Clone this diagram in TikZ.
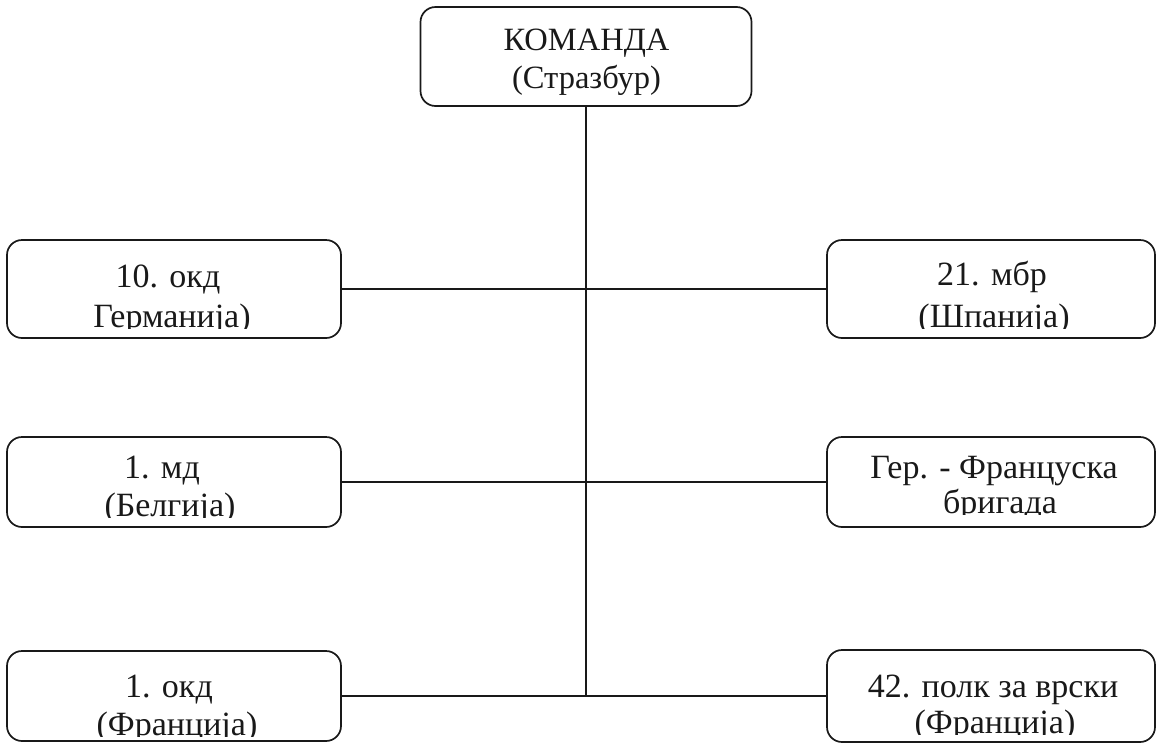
\documentclass[tikz,border=0pt]{standalone}
\usepackage{fontspec}
\setmainfont{Liberation Serif}
\begin{document}
\begin{tikzpicture}[x=1pt,y=-1pt,
  box/.style={draw=black!90, line width=1.7pt, rounded corners=15pt, inner sep=0pt},
  lbox/.style={box, minimum width=334pt},
  rbox/.style={box, minimum width=328pt},
  txt/.style={anchor=base, inner sep=0pt, font=\fontsize{34}{40}\selectfont, text=black!90},
  ttxt/.style={anchor=base, inner sep=0pt, font=\fontsize{32.5}{38}\selectfont, text=black!90},
  conn/.style={draw=black!90, line width=1.5pt}]
\useasboundingbox (0,0) rectangle (1157,745);
% top
\node[box, minimum width=331pt, minimum height=99pt] (top) at (586,56.5) {};
\node[ttxt] (topA) at (586.5,50) {КОМАНДА};
\node[ttxt] (topB) at (586.5,88) {(Стразбур)};
% left column
\node[lbox, minimum height=98pt] (l1) at (174,289) {};
\node[lbox, minimum height=90pt] (l2) at (174,482) {};
\node[lbox, minimum height=90pt] (l3) at (174,696) {};
% right column
\node[rbox, minimum height=98pt] (r1) at (991,289) {};
\node[rbox, minimum height=90pt] (r2) at (991,482) {};
\node[rbox, minimum height=92pt] (r3) at (991,696) {};
% texts
\node[txt] (l1a) at (168,287) {10. окд};
\begin{scope}\clip (8,241) rectangle (340,328);
\node[txt] (l1b) at (172,327) {Германија)};
\end{scope}
\node[txt] (l2a) at (162,478) {1. мд};
\begin{scope}\clip (8,438) rectangle (340,517);
\node[txt] (l2b) at (170,516) {(Белгија)};
\end{scope}
\node[txt] (l3a) at (169,697) {1. окд};
\begin{scope}\clip (8,652) rectangle (340,736);
\node[txt] (l3b) at (177,735) {(Франција)};
\end{scope}
\node[txt] (r1a) at (992,285) {21. мбр};
\begin{scope}\clip (828,241) rectangle (1154,328);
\node[txt] (r1b) at (994,327) {(Шпанија)};
\end{scope}
\node[txt] (r2a) at (994,478) {Гер. - Француска};
\begin{scope}\clip (828,438) rectangle (1154,514);
\node[txt] (r2b) at (1000,513) {бригада};
\end{scope}
\node[txt] (r3a) at (993,697) {42. полк за врски};
\begin{scope}\clip (828,651) rectangle (1154,734);
\node[txt] (r3b) at (995,733) {(Франција)};
\end{scope}
% connectors
\coordinate (jb) at (top.south |- l3.east);
\draw[conn] (top.south) -- (jb);
\draw[conn] (l1.east) -- (r1.west);
\draw[conn] (l2.east) -- (r2.west);
\draw[conn] (l3.east) -- (r3.west);
\end{tikzpicture}
\end{document}
